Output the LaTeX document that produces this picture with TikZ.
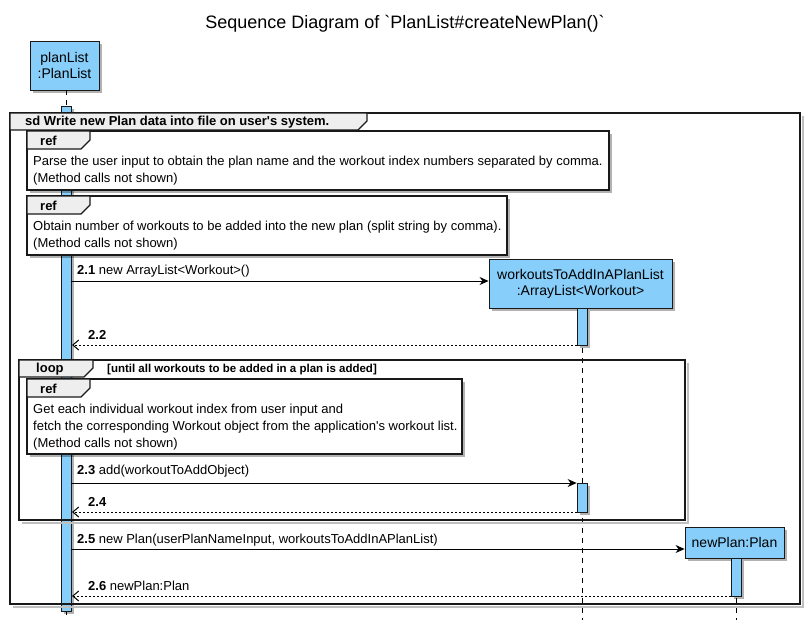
\documentclass[tikz,border=0pt]{standalone}
\usepackage{fontspec}
\setmainfont{Liberation Sans}
\usetikzlibrary{arrows.meta,shadows}
\definecolor{partblue}{HTML}{87CEFA}
\definecolor{tabgray}{HTML}{EEEEEE}
\newcommand{\fsz}[1]{\fontsize{#1}{#1}\selectfont}
\newcommand{\sq}{\textquotesingle}
\begin{document}
\begin{tikzpicture}[x=1pt,y=-1pt,
  sh/.style={drop shadow={shadow xshift=3pt,shadow yshift=-3pt,opacity=0.3,fill=black}},
  part/.style={draw=black!90,fill=partblue,line width=0.9pt,align=center,inner sep=0pt,font=\fsz{14},sh},
  actbar/.style={draw=black!90,fill=partblue,line width=0.8pt,minimum width=10pt,inner sep=0pt,sh},
  life/.style={black,line width=0.8pt,dash pattern=on 5pt off 5pt},
  frame/.style={draw=black!90,line width=1.6pt},
  frsh/.style={draw=black!25,line width=2pt},
  tabs/.style={draw=black!90,fill=tabgray,line width=1.2pt},
  refbox/.style={draw=black!90,fill=white,line width=1.6pt,sh},
  reftext/.style={anchor=west,align=left,font=\fsz{13},inner sep=0pt},
  tablbl/.style={anchor=west,font=\bfseries\fsz{13},inner sep=0pt},
  msg/.style={-{Stealth[length=9pt,width=8pt,inset=3pt]},line width=0.8pt},
  ret/.style={-{Straight Barb[length=6pt,width=10pt,line width=1pt]},line width=0.7pt,dash pattern=on 2pt off 2pt},
  lbl/.style={anchor=west,font=\fsz{13},inner sep=0pt}
]
\useasboundingbox (0,0) rectangle (811,627);
\fill[white] (0,0) rectangle (811,627);

% title
\node[font=\fsz{18}] (title) at (405,24) {Sequence Diagram of \textasciigrave PlanList\#createNewPlan()\textasciigrave};

% participants
\node[part,minimum width=69pt,minimum height=49pt] (pl) at (64.5,65.5) {planList\\[2pt]:PlanList};
\node[part,minimum width=183pt,minimum height=49pt] (wl) at (580.5,283.5) {workoutsToAddInAPlanList\\[2pt]:ArrayList<Workout>};
\node[part,minimum width=99pt,minimum height=31pt] (np) at (734.5,542.5) {newPlan:Plan};

% lifelines
\coordinate (plend) at (66,620);
\coordinate (wlend) at (582,620);
\coordinate (npend) at (736,620);
\draw[life] (pl.south -| plend) -- (plend);
\draw[life] (wl.south -| wlend) -- (wlend);
\draw[life] (np.south -| npend) -- (npend);

% activation bars
\node[actbar,minimum height=505pt] (a1) at (66,358.5) {};
\node[actbar,minimum height=37pt] (a2) at (582,326.5) {};
\node[actbar,minimum height=29pt] (a3) at (582,497.5) {};
\node[actbar,minimum height=38pt] (a4) at (736,577) {};

% sd frame
\draw[frsh] (802.5,116) -- (802.5,606.5) -- (13,606.5);
\draw[frame] (10,113) rectangle (800,604);
\draw[tabs] (10,113) -- (367,113) -- (367,121) -- (358,130) -- (10,130) -- cycle;
\node[tablbl] (sdl) at (25,122) {sd Write new Plan data into file on user\sq s system.};

% ref 1
\draw[refbox] (27,131) rectangle (609,190);
\draw[tabs] (27,131) -- (90,131) -- (90,140) -- (81,149) -- (27,149) -- cycle;
\node[tablbl] (r1l) at (40,140.5) {ref};
\node[reftext] (r1a) at (33,162) {Parse the user input to obtain the plan name and the workout index numbers separated by comma.};
\node[reftext] (r1b) at (33,179) {(Method calls not shown)};

% ref 2
\draw[refbox] (27,196) rectangle (507,255);
\draw[tabs] (27,196) -- (90,196) -- (90,205) -- (81,214) -- (27,214) -- cycle;
\node[tablbl] (r2l) at (40,205.5) {ref};
\node[reftext] (r2a) at (33,227) {Obtain number of workouts to be added into the new plan (split string by comma).};
\node[reftext] (r2b) at (33,244) {(Method calls not shown)};

% message 2.1 / 2.2
\coordinate (m21) at (71,281);
\draw[msg] (m21) -- (wl.west |- m21);
\node[lbl] (l21) at (77,271) {\textbf{2.1} new ArrayList<Workout>()};
\coordinate (m22) at (577,345);
\coordinate (m22e) at (72,345);
\draw[ret] (m22) -- (m22e);
\node[lbl] (l22) at (88,335) {\textbf{2.2}};

% loop frame
\draw[frsh] (687.5,363) -- (687.5,522.5) -- (22,522.5);
\draw[frame] (19,360) rectangle (685,520);
\draw[tabs] (19,360) -- (93,360) -- (93,368) -- (84,377) -- (19,377) -- cycle;
\node[tablbl] (lpl) at (36,369) {loop};
\node[anchor=west,font=\bfseries\fsz{11.5},inner sep=0pt] (guard) at (107,369.5) {[until all workouts to be added in a plan is added]};

% ref 3
\draw[refbox] (27,379) rectangle (462,454);
\draw[tabs] (27,379) -- (90,379) -- (90,388) -- (81,397) -- (27,397) -- cycle;
\node[tablbl] (r3l) at (40,388.5) {ref};
\node[reftext] (r3a) at (33,410) {Get each individual workout index from user input and};
\node[reftext] (r3b) at (33,427) {fetch the corresponding Workout object from the application\sq s workout list.};
\node[reftext] (r3c) at (33,444) {(Method calls not shown)};

% 2.3 / 2.4
\coordinate (m23) at (71,483);
\draw[msg] (m23) -- (a3.west |- m23);
\node[lbl] (l23) at (77,471) {\textbf{2.3} add(workoutToAddObject)};
\coordinate (m24) at (577,512);
\coordinate (m24e) at (72,512);
\draw[ret] (m24) -- (m24e);
\node[lbl] (l24) at (88,502) {\textbf{2.4}};

% 2.5 / 2.6
\coordinate (m25) at (71,549);
\draw[msg] (m25) -- (np.west |- m25);
\node[lbl] (l25) at (77,540) {\textbf{2.5} new Plan(userPlanNameInput, workoutsToAddInAPlanList)};
\coordinate (m26) at (731,596);
\coordinate (m26e) at (72,596);
\draw[ret] (m26) -- (m26e);
\node[lbl] (l26) at (88,586) {\textbf{2.6} newPlan:Plan};
\end{tikzpicture}
\end{document}
